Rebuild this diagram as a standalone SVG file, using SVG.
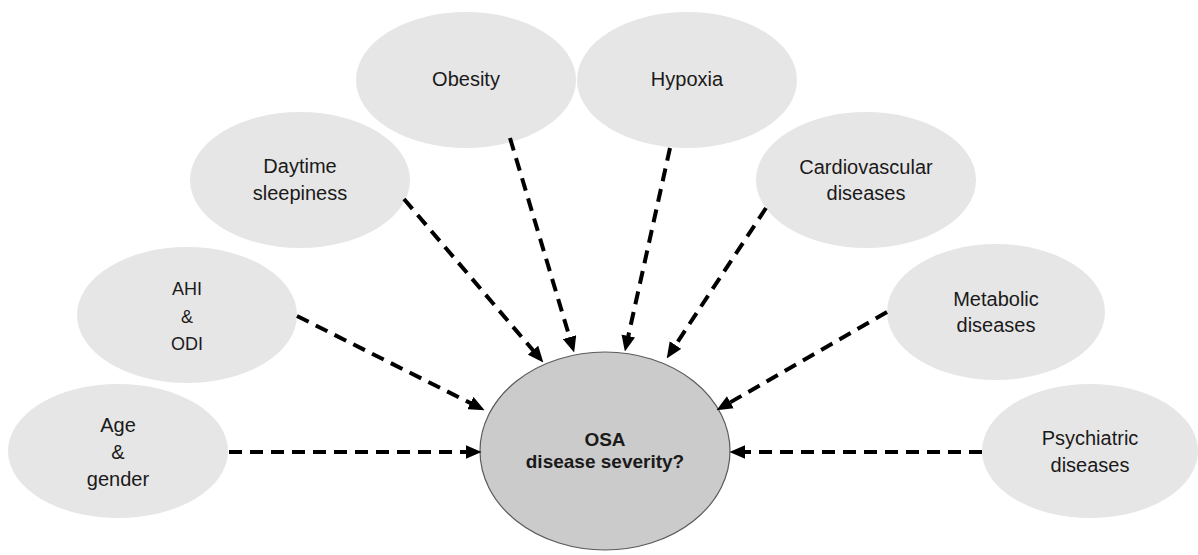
<svg xmlns="http://www.w3.org/2000/svg" width="1198" height="555" viewBox="0 0 1198 555">
<style>
.node{fill:#e7e6e6;stroke:none}
.center{fill:#cbcbcb;stroke:#5a5a5a;stroke-width:1.2}
.lbl{font-family:"Liberation Sans",Arial,sans-serif;font-size:20px;fill:#1a1a1a;text-anchor:middle}
.lbl18{font-size:18px}
.bold{font-weight:bold;font-size:19px}
.conn line{stroke:#000;stroke-width:4;stroke-dasharray:13 8;fill:none;marker-end:url(#arrow)}
</style>
<defs>
<marker id="arrow" markerUnits="userSpaceOnUse" markerWidth="16" markerHeight="14" viewBox="0 0 15 13" refX="7" refY="6.5" orient="auto">
<path d="M0,0 L15,6.5 L0,13 z" fill="#000"/>
</marker>
</defs>
<rect width="1198" height="555" fill="#fff"/>
<g id="age"><ellipse class="node" cx="118" cy="451" rx="110" ry="67"/>
<text class="lbl" x="118" y="432">Age</text><text class="lbl" x="118" y="459">&amp;</text><text class="lbl" x="118" y="486">gender</text></g>
<g id="ahi"><ellipse class="node" cx="187" cy="315" rx="110" ry="68"/>
<text class="lbl lbl18" x="187" y="295">AHI</text><text class="lbl lbl18" x="187" y="323">&amp;</text><text class="lbl lbl18" x="187" y="350">ODI</text></g>
<g id="daytime"><ellipse class="node" cx="300" cy="180" rx="110" ry="68"/>
<text class="lbl" x="300" y="173">Daytime</text><text class="lbl" x="300" y="200">sleepiness</text></g>
<g id="obesity"><ellipse class="node" cx="466" cy="80" rx="110" ry="68"/>
<text class="lbl" x="466" y="86">Obesity</text></g>
<g id="hypoxia"><ellipse class="node" cx="687" cy="80" rx="110" ry="68"/>
<text class="lbl" x="687" y="86">Hypoxia</text></g>
<g id="cardio"><ellipse class="node" cx="866" cy="180" rx="110" ry="68"/>
<text class="lbl" x="866" y="174">Cardiovascular</text><text class="lbl" x="866" y="200">diseases</text></g>
<g id="metabolic"><ellipse class="node" cx="996" cy="312" rx="109" ry="68"/>
<text class="lbl" x="996" y="306">Metabolic</text><text class="lbl" x="996" y="332">diseases</text></g>
<g id="psychiatric"><ellipse class="node" cx="1090" cy="451" rx="108" ry="67"/>
<text class="lbl" x="1090" y="445">Psychiatric</text><text class="lbl" x="1090" y="472">diseases</text></g>
<g id="osa"><ellipse class="center" cx="605" cy="451" rx="125" ry="99"/>
<text class="lbl bold" x="605" y="446">OSA</text><text class="lbl bold" x="605" y="468">disease severity?</text></g>
<g id="connectors" class="conn">
<line x1="229" y1="452" x2="473" y2="452"/>
<line x1="297" y1="316" x2="477" y2="406.4"/>
<line x1="404" y1="199" x2="537.8" y2="355.9"/>
<line x1="510" y1="138" x2="571.7" y2="344.3"/>
<line x1="670" y1="148" x2="626.7" y2="343.2"/>
<line x1="766" y1="208" x2="671.4" y2="351.3"/>
<line x1="887" y1="312" x2="723.9" y2="406"/>
<line x1="982" y1="452" x2="738" y2="452"/>
</g>
</svg>
